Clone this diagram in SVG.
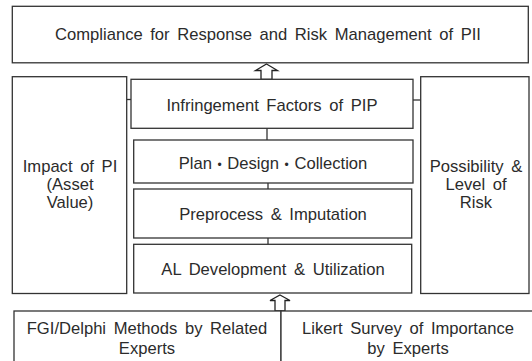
<svg xmlns="http://www.w3.org/2000/svg" width="532" height="361" viewBox="0 0 532 361">
<style>
.box{fill:#fff;stroke:#333;stroke-width:1.3}
.ln{fill:none;stroke:#333;stroke-width:1.3}
.arr{fill:#fff;stroke:#222;stroke-width:1.3;stroke-linejoin:miter}
text{font-family:"Liberation Sans",Arial,sans-serif;font-size:16.6px;fill:#2b2b2b;text-anchor:middle;word-spacing:3px}
.dot{font-size:12px}
</style>
<rect width="532" height="361" fill="#fff"/>
<g id="connectors">
<line class="ln" x1="126.7" y1="99.5" x2="131" y2="99.5"/>
<line class="ln" x1="413" y1="100" x2="420.7" y2="100"/>
<line class="ln" x1="267" y1="128" x2="267" y2="140"/>
<line class="ln" x1="268" y1="183" x2="268" y2="189"/>
<line class="ln" x1="268" y1="238" x2="268" y2="244"/>
<polygon class="arr" points="266.5,64 277.5,70.5 272,70.5 272,79.5 261,79.5 261,70.5 255.5,70.5"/>
<polygon class="arr" points="280,295 290,300.5 285,300.5 285,311 275,311 275,300.5 270,300.5"/>
</g>
<g id="top">
<rect class="box" x="12.3" y="6.3" width="516" height="56.5"/>
<text x="268" y="39.5">Compliance for Response and Risk Management of PII</text>
</g>
<g id="impact">
<rect class="box" x="12.3" y="76.7" width="114.4" height="216.8"/>
<text x="70" y="172">Impact of PI</text>
<text x="70" y="190">(Asset</text>
<text x="70" y="208">Value)</text>
</g>
<g id="possibility">
<rect class="box" x="420.7" y="76.7" width="108.3" height="216.8"/>
<text x="476" y="172">Possibility &amp;</text>
<text x="476" y="190">Level of</text>
<text x="476" y="208">Risk</text>
</g>
<g id="infringement">
<rect class="box" x="131" y="79.3" width="282" height="49"/>
<text x="272" y="110.5">Infringement Factors of PIP</text>
</g>
<g id="plan">
<rect class="box" x="133.7" y="140" width="279.3" height="43"/>
<text x="273" y="169.3" style="word-spacing:1px">Plan <tspan class="dot">•</tspan> Design <tspan class="dot">•</tspan> Collection</text>
</g>
<g id="preprocess">
<rect class="box" x="133.7" y="189" width="278" height="49"/>
<text x="273" y="219.5">Preprocess &amp; Imputation</text>
</g>
<g id="al">
<rect class="box" x="133.7" y="244.3" width="278" height="48.7"/>
<text x="273" y="275">AL Development &amp; Utilization</text>
</g>
<g id="fgi">
<rect class="box" x="14" y="311" width="267" height="60"/>
<text x="147" y="334">FGI/Delphi Methods by Related</text>
<text x="147" y="354">Experts</text>
</g>
<g id="likert">
<rect class="box" x="281" y="311" width="260" height="60"/>
<text x="408" y="334">Likert Survey of Importance</text>
<text x="408" y="354">by Experts</text>
</g>
</svg>
